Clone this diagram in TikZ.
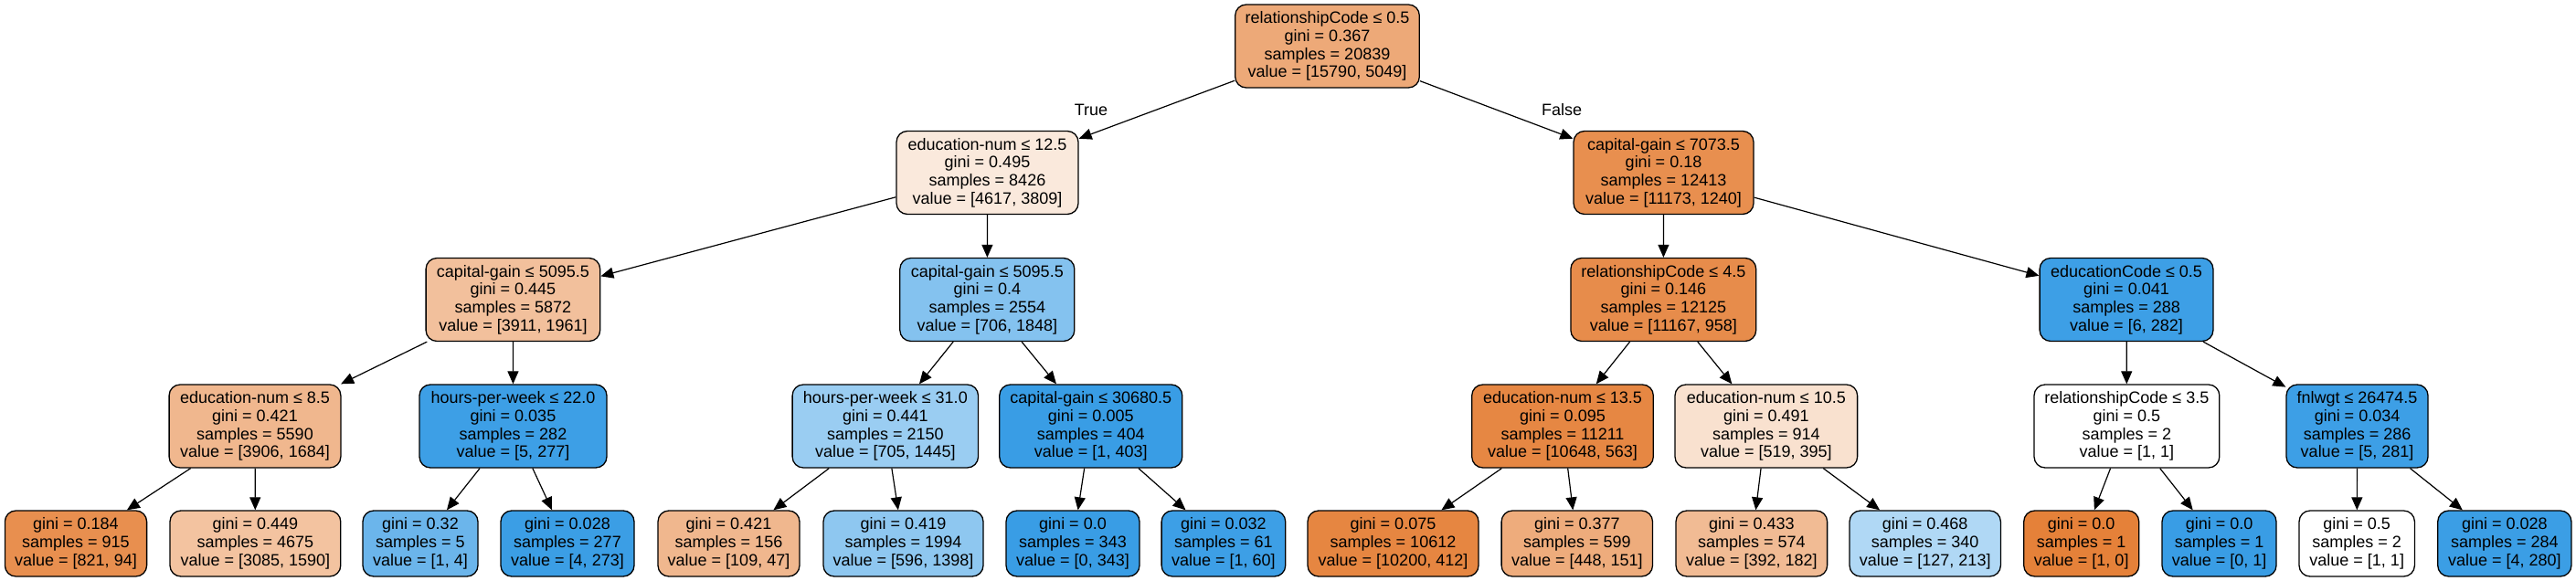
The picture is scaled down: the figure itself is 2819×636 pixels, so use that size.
\documentclass[tikz,border=0pt]{standalone}
\usepackage{fontspec}
\setmainfont{Liberation Sans}
\usetikzlibrary{arrows.meta}
\definecolor{skO}{RGB}{229,129,57}
\definecolor{skB}{RGB}{57,157,229}
\begin{document}
\begin{tikzpicture}[x=0.5pt,y=-0.5pt,
  tnode/.style={draw=black, line width=0.65pt, rounded corners=6pt, align=center,
    inner xsep=2pt, inner ysep=0pt, font=\fontsize{9}{9.85}\selectfont, text=black},
  inode/.style={tnode, minimum height=45.5pt},
  lnode/.style={tnode, minimum height=36pt},
  conn/.style={-{Triangle[length=7pt,width=6pt]}, line width=0.6pt},
  elabel/.style={font=\fontsize{9}{9.85}\selectfont, inner sep=0pt}]
\useasboundingbox (0,0) rectangle (2819,636);
% level 0
\node[inode, fill=skO!68!white, minimum width=100.8pt] (root) at (1452.5,50.5)
  {relationshipCode ≤ 0.5\\gini = 0.367\\samples = 20839\\value = [15790, 5049]};
% level 1
\node[inode, fill=skO!17.5!white, minimum width=99.5pt] (A) at (1080.5,189)
  {education-num ≤ 12.5\\gini = 0.495\\samples = 8426\\value = [4617, 3809]};
\node[inode, fill=skO!89!white, minimum width=98.5pt] (B) at (1820.5,189)
  {capital-gain ≤ 7073.5\\gini = 0.18\\samples = 12413\\value = [11173, 1240]};
% level 2
\node[inode, fill=skO!50!white, minimum width=95.3pt] (C) at (561.4,328)
  {capital-gain ≤ 5095.5\\gini = 0.445\\samples = 5872\\value = [3911, 1961]};
\node[inode, fill=skB!62!white, minimum width=95.5pt] (D) at (1080.3,328)
  {capital-gain ≤ 5095.5\\gini = 0.4\\samples = 2554\\value = [706, 1848]};
\node[inode, fill=skO!91!white, minimum width=101.4pt] (E) at (1820.3,328)
  {relationshipCode ≤ 4.5\\gini = 0.146\\samples = 12125\\value = [11167, 958]};
\node[inode, fill=skB!98!white, minimum width=94.9pt] (F) at (2327,328)
  {educationCode ≤ 0.5\\gini = 0.041\\samples = 288\\value = [6, 282]};
% level 3
\node[inode, fill=skO!57!white, minimum width=93.9pt] (G) at (279,466.5)
  {education-num ≤ 8.5\\gini = 0.421\\samples = 5590\\value = [3906, 1684]};
\node[inode, fill=skB!98!white, minimum width=102.5pt] (H) at (561.5,466.5)
  {hours-per-week ≤ 22.0\\gini = 0.035\\samples = 282\\value = [5, 277]};
\node[inode, fill=skB!51!white, minimum width=101.7pt] (I) at (968.8,466.5)
  {hours-per-week ≤ 31.0\\gini = 0.441\\samples = 2150\\value = [705, 1445]};
\node[inode, fill=skB!100!white, minimum width=100pt] (J) at (1193.75,466.5)
  {capital-gain ≤ 30680.5\\gini = 0.005\\samples = 404\\value = [1, 403]};
\node[inode, fill=skO!95!white, minimum width=99.3pt] (K) at (1710,466.5)
  {education-num ≤ 13.5\\gini = 0.095\\samples = 11211\\value = [10648, 563]};
\node[inode, fill=skO!24!white, minimum width=99.8pt] (L) at (1932.8,466.5)
  {education-num ≤ 10.5\\gini = 0.491\\samples = 914\\value = [519, 395]};
\node[inode, fill=white, minimum width=101.4pt] (M) at (2327.4,466.5)
  {relationshipCode ≤ 3.5\\gini = 0.5\\samples = 2\\value = [1, 1]};
\node[inode, fill=skB!98!white, minimum width=77.5pt] (N) at (2579.5,466.5)
  {fnlwgt ≤ 26474.5\\gini = 0.034\\samples = 286\\value = [5, 281]};
% level 4 leaves
\node[lnode, fill=skO!89!white, minimum width=77.6pt] (l1) at (83,595)
  {gini = 0.184\\samples = 915\\value = [821, 94]};
\node[lnode, fill=skO!48!white, minimum width=93.4pt] (l2) at (279.4,595)
  {gini = 0.449\\samples = 4675\\value = [3085, 1590]};
\node[lnode, fill=skB!75!white, minimum width=63pt] (l3) at (460,595)
  {gini = 0.32\\samples = 5\\value = [1, 4]};
\node[lnode, fill=skB!99!white, minimum width=73pt] (l4) at (621,595)
  {gini = 0.028\\samples = 277\\value = [4, 273]};
\node[lnode, fill=skO!57!white, minimum width=77.5pt] (l5) at (797.5,595)
  {gini = 0.421\\samples = 156\\value = [109, 47]};
\node[lnode, fill=skB!57!white, minimum width=87.5pt] (l6) at (988.5,595)
  {gini = 0.419\\samples = 1994\\value = [596, 1398]};
\node[lnode, fill=skB!100!white, minimum width=73pt] (l7) at (1174,595)
  {gini = 0.0\\samples = 343\\value = [0, 343]};
\node[lnode, fill=skB!98!white, minimum width=67.8pt] (l8) at (1338.9,595)
  {gini = 0.032\\samples = 61\\value = [1, 60]};
\node[lnode, fill=skO!96!white, minimum width=93.5pt] (l9) at (1524.5,595)
  {gini = 0.075\\samples = 10612\\value = [10200, 412]};
\node[lnode, fill=skO!66!white, minimum width=82.7pt] (l10) at (1725.8,595)
  {gini = 0.377\\samples = 599\\value = [448, 151]};
\node[lnode, fill=skO!54!white, minimum width=82.8pt] (l11) at (1916.8,595)
  {gini = 0.433\\samples = 574\\value = [392, 182]};
\node[lnode, fill=skB!40!white, minimum width=82.7pt] (l12) at (2106.7,595)
  {gini = 0.468\\samples = 340\\value = [127, 213]};
\node[lnode, fill=skO!100!white, minimum width=63pt] (l13) at (2277.7,595)
  {gini = 0.0\\samples = 1\\value = [1, 0]};
\node[lnode, fill=skB!100!white, minimum width=62.5pt] (l14) at (2428.5,595)
  {gini = 0.0\\samples = 1\\value = [0, 1]};
\node[lnode, fill=white, minimum width=63.2pt] (l15) at (2579.2,595)
  {gini = 0.5\\samples = 2\\value = [1, 1]};
\node[lnode, fill=skB!99!white, minimum width=73.1pt] (l16) at (2740.8,595)
  {gini = 0.028\\samples = 284\\value = [4, 280]};
% edges
\draw[conn] (root) -- (A);
\draw[conn] (root) -- (B);
\node[elabel] (tlab) at (1194,120) {True};
\node[elabel] (flab) at (1709,120.5) {False};
\draw[conn] (A) -- (C);
\draw[conn] (A) -- (D);
\draw[conn] (B) -- (E);
\draw[conn] (B) -- (F);
\draw[conn] (C) -- (G);
\draw[conn] (C) -- (H);
\draw[conn] (D) -- (I);
\draw[conn] (D) -- (J);
\draw[conn] (E) -- (K);
\draw[conn] (E) -- (L);
\draw[conn] (F) -- (M);
\draw[conn] (F) -- (N);
\draw[conn] (G) -- (l1);
\draw[conn] (G) -- (l2);
\draw[conn] (H) -- (l3);
\draw[conn] (H) -- (l4);
\draw[conn] (I) -- (l5);
\draw[conn] (I) -- (l6);
\draw[conn] (J) -- (l7);
\draw[conn] (J) -- (l8);
\draw[conn] (K) -- (l9);
\draw[conn] (K) -- (l10);
\draw[conn] (L) -- (l11);
\draw[conn] (L) -- (l12);
\draw[conn] (M) -- (l13);
\draw[conn] (M) -- (l14);
\draw[conn] (N) -- (l15);
\draw[conn] (N) -- (l16);
\end{tikzpicture}
\end{document}
